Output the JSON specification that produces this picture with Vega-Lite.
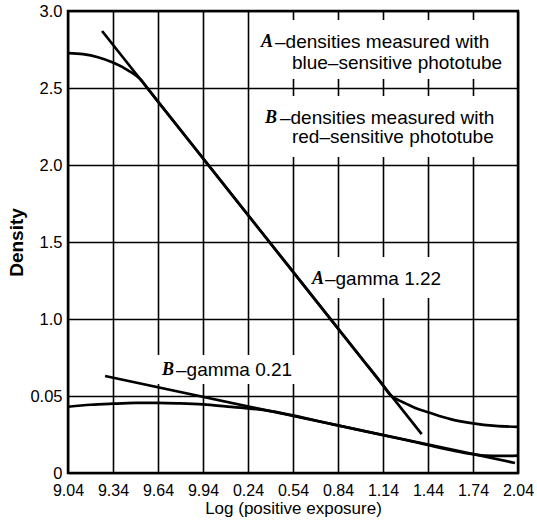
{
  "$schema": "https://vega.github.io/schema/vega-lite/v6.json",
  "width": 450,
  "height": 462,
  "autosize": "none",
  "padding": {"left": 68, "top": 11, "right": 19, "bottom": 50},
  "background": "white",
  "config": {
    "view": {"stroke": "black", "strokeWidth": 2.5},
    "font": "Liberation Sans",
    "axis": {"labelColor": "black", "titleColor": "black", "labelFont": "Liberation Sans", "titleFont": "Liberation Sans"}
  },
  "datasets": {
    "masks": [
      {"x": 0.267, "x2": 2.027, "y": 2.558, "y2": 2.942},
      {"x": 0.267, "x2": 2.027, "y": 2.052, "y2": 2.448},
      {"x": 0.587, "x2": 1.587, "y": 1.136, "y2": 1.403},
      {"x": -0.413, "x2": 0.573, "y": 0.578, "y2": 0.766}
    ],
    "curves": [
      {"series": "A curve", "x": -0.96, "y": 2.727},
      {"series": "A curve", "x": -0.86, "y": 2.72},
      {"series": "A curve", "x": -0.76, "y": 2.7},
      {"series": "A curve", "x": -0.66, "y": 2.665},
      {"series": "A curve", "x": -0.56, "y": 2.615},
      {"series": "A curve", "x": -0.48, "y": 2.56},
      {"series": "A curve", "x": -0.42, "y": 2.486},
      {"series": "A curve", "x": -0.36, "y": 2.412},
      {"series": "A curve", "x": 0.0, "y": 1.97},
      {"series": "A curve", "x": 0.5, "y": 1.356},
      {"series": "A curve", "x": 1.0, "y": 0.742},
      {"series": "A curve", "x": 1.14, "y": 0.57},
      {"series": "A curve", "x": 1.19, "y": 0.505},
      {"series": "A curve", "x": 1.24, "y": 0.475},
      {"series": "A curve", "x": 1.29, "y": 0.452},
      {"series": "A curve", "x": 1.36, "y": 0.42},
      {"series": "A curve", "x": 1.44, "y": 0.395},
      {"series": "A curve", "x": 1.59, "y": 0.35},
      {"series": "A curve", "x": 1.74, "y": 0.322},
      {"series": "A curve", "x": 1.89, "y": 0.306},
      {"series": "A curve", "x": 2.04, "y": 0.3},
      {"series": "A line", "x": -0.733, "y": 2.87},
      {"series": "A line", "x": 1.398, "y": 0.253},
      {"series": "B line", "x": -0.713, "y": 0.63},
      {"series": "B line", "x": 2.02, "y": 0.065},
      {"series": "B curve", "x": -0.96, "y": 0.43},
      {"series": "B curve", "x": -0.81, "y": 0.443},
      {"series": "B curve", "x": -0.66, "y": 0.45},
      {"series": "B curve", "x": -0.51, "y": 0.455},
      {"series": "B curve", "x": -0.36, "y": 0.456},
      {"series": "B curve", "x": -0.21, "y": 0.452},
      {"series": "B curve", "x": -0.06, "y": 0.445},
      {"series": "B curve", "x": 0.09, "y": 0.433},
      {"series": "B curve", "x": 0.24, "y": 0.42},
      {"series": "B curve", "x": 0.39, "y": 0.402},
      {"series": "B curve", "x": 0.8, "y": 0.317},
      {"series": "B curve", "x": 1.3, "y": 0.213},
      {"series": "B curve", "x": 1.74, "y": 0.122},
      {"series": "B curve", "x": 1.82, "y": 0.113},
      {"series": "B curve", "x": 1.92, "y": 0.111},
      {"series": "B curve", "x": 2.04, "y": 0.113}
    ],
    "letters": [
      {"t": "A", "x": 0.327, "y": 2.799},
      {"t": "B", "x": 0.353, "y": 2.305},
      {"t": "A", "x": 0.667, "y": 1.26},
      {"t": "B", "x": -0.333, "y": 0.669}
    ],
    "phrases": [
      {"t": "–densities measured with", "x": 0.42, "y": 2.799},
      {"t": "blue–sensitive phototube", "x": 0.533, "y": 2.662},
      {"t": "–densities measured with", "x": 0.453, "y": 2.305},
      {"t": "red–sensitive phototube", "x": 0.533, "y": 2.182},
      {"t": "–gamma 1.22", "x": 0.753, "y": 1.26},
      {"t": "–gamma 0.21", "x": -0.24, "y": 0.669}
    ]
  },
  "layer": [
    {
      "data": {"name": "masks"},
      "mark": {"type": "rect", "fill": "white", "strokeWidth": 0},
      "encoding": {
        "x": {
          "field": "x", "type": "quantitative",
          "scale": {"domain": [-0.96, 2.04], "nice": false, "zero": false},
          "axis": {
            "title": "Log (positive exposure)",
            "values": [-0.96, -0.66, -0.36, -0.06, 0.24, 0.54, 0.84, 1.14, 1.44, 1.74, 2.04],
            "labelExpr": "datum.value < 0 ? format(datum.value + 10, '.2f') : format(datum.value, '.2f')",
            "grid": true, "gridColor": "black", "gridWidth": 1.6, "gridOpacity": 1,
            "ticks": false, "domain": false,
            "labelFontSize": 16, "labelPadding": 9, "labelFlush": false, "labelOverlap": false,
            "titleFontSize": 17, "titleFontWeight": "normal", "titlePadding": 2
          }
        },
        "x2": {"field": "x2"},
        "y": {
          "field": "y", "type": "quantitative",
          "scale": {"domain": [0, 3], "nice": false, "zero": false},
          "axis": {
            "title": "Density",
            "values": [0, 0.5, 1, 1.5, 2, 2.5, 3],
            "labelExpr": "datum.value == 0 ? '0' : (datum.value == 0.5 ? '0.05' : format(datum.value, '.1f'))",
            "grid": true, "gridColor": "black", "gridWidth": 1.6, "gridOpacity": 1,
            "ticks": false, "domain": false,
            "labelFontSize": 16.5, "labelPadding": 6, "labelFlush": false, "labelOverlap": false,
            "titleFontSize": 19, "titleFontWeight": "bold", "titlePadding": 3
          }
        },
        "y2": {"field": "y2"}
      }
    },
    {
      "data": {"name": "curves"},
      "mark": {"type": "line", "color": "black", "strokeWidth": 2.7, "interpolate": "monotone", "clip": true},
      "encoding": {
        "x": {"field": "x", "type": "quantitative"},
        "y": {"field": "y", "type": "quantitative"},
        "detail": {"field": "series"}
      }
    },
    {
      "data": {"name": "letters"},
      "mark": {"type": "text", "font": "Liberation Serif", "fontStyle": "italic", "fontWeight": "bold", "fontSize": 18, "align": "left", "baseline": "middle", "color": "black"},
      "encoding": {
        "x": {"field": "x", "type": "quantitative"},
        "y": {"field": "y", "type": "quantitative"},
        "text": {"field": "t"}
      }
    },
    {
      "data": {"name": "phrases"},
      "mark": {"type": "text", "font": "Liberation Sans", "fontSize": 19, "align": "left", "baseline": "middle", "color": "black"},
      "encoding": {
        "x": {"field": "x", "type": "quantitative"},
        "y": {"field": "y", "type": "quantitative"},
        "text": {"field": "t"}
      }
    }
  ]
}
